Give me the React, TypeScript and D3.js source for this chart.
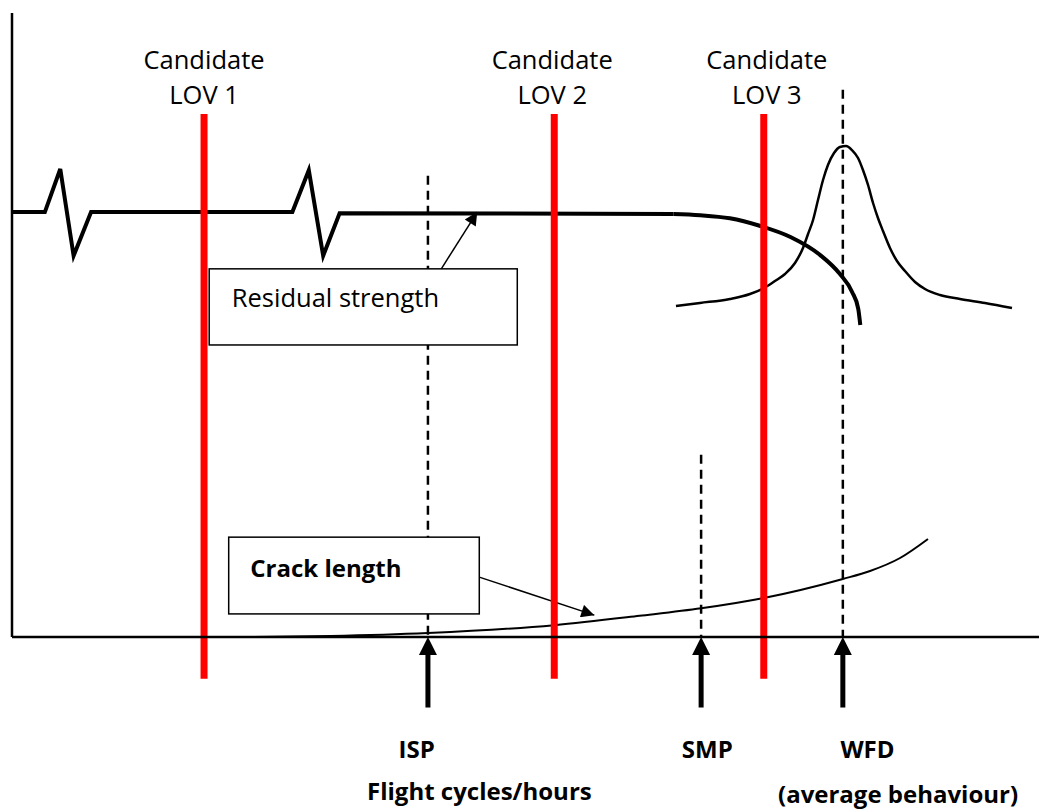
import * as d3 from "d3";
import React from "react";

// chart units: x = life (flight cycles/hours, 0-100), y = arbitrary level (0-100)
const lovNames = ["LOV 1", "LOV 2", "LOV 3"];
const lovX = [18.7, 52.8, 73.2];
const lovLabelX = [18.7, 52.6, 73.5];
const lovTop = 83.8;
const lovBottom = -6.7;

const markerNames = ["ISP", "SMP", "WFD"];
const markerX = [40.5, 67.1, 80.9];
const markerTop = [73.9, 29.2, 87.7];
const markerLabelX = [39.4, 67.7, 83.3];

const strengthBase: [number, number][] = [
  [0, 68.1], [3.2, 68.1], [4.7, 75.0], [6.0, 61.1], [7.7, 68.1],
  [27.3, 68.1], [28.9, 74.8], [30.3, 61.1], [31.9, 67.9], [64.4, 67.8],
];
const strengthDrop: [number, number][] = [
  [64.4, 67.8], [67.0, 67.6], [69.9, 67.1], [72.8, 65.9],
  [75.8, 64.1], [78.7, 61.2], [80.6, 58.2], [81.8, 55.3], [82.4, 52.6], [82.6, 50.0],
];
const crackLength: [number, number][] = [
  [23.4, 0], [31.0, 0.16], [40.5, 0.64], [52.8, 1.9], [61.1, 3.4], [67.1, 4.6],
  [73.2, 6.25], [80.9, 9.3], [83.55, 10.58], [86.47, 12.66], [89.19, 15.71],
];
const wfdSpread: [number, number][] = [
  [64.65, 53.04], [66.99, 53.53], [69.91, 54.17], [71.86, 54.97], [73.22, 55.93],
  [74.29, 57.05], [75.27, 58.17], [76.24, 59.94], [77.02, 62.34], [77.51, 64.58],
  [78.0, 66.83], [78.48, 70.03], [78.97, 73.24], [79.45, 75.64], [80.04, 77.56],
  [80.62, 78.53], [81.21, 78.69], [81.79, 78.04], [82.38, 76.76], [82.86, 74.84],
  [83.35, 72.44], [83.84, 69.55], [84.32, 67.15], [84.81, 65.06], [85.49, 62.34],
  [86.17, 60.26], [86.95, 58.65], [87.93, 56.89], [88.9, 55.77], [90.36, 54.81],
  [92.31, 54.17], [94.74, 53.53], [97.37, 52.72],
];

// callout boxes: [x0, x1, yTop, yBottom], text anchor, arrow from -> to
const calloutText = ["Residual strength", "Crack length"];
const calloutBold = [false, true];
const calloutBox = [[19.2, 49.2, 59.0, 46.8], [21.1, 45.5, 16.0, 3.7]];
const calloutTextPos = [[21.4, 52.9], [23.2, 9.6]];
const calloutArrow = [[41.8, 59.0, 45.3, 68.1], [45.5, 9.6, 56.7, 3.5]];

const arrowBottom = -11.3;

export default function App() {
  const width = 1039;
  const height = 810;
  const x = d3.scaleLinear().domain([0, 100]).range([12, 1039]);
  const y = d3.scaleLinear().domain([0, 100]).range([637, 13]);

  const lineLin = d3.line<[number, number]>().x((d) => x(d[0])).y((d) => y(d[1]));
  const lineSmooth = d3
    .line<[number, number]>()
    .x((d) => x(d[0]))
    .y((d) => y(d[1]))
    .curve(d3.curveMonotoneX);

  const font = "'Open Sans', sans-serif";
  const regular = 25.5;
  const bold = 24;

  return (
    <svg
      width={width}
      height={height}
      style={{ position: "absolute", left: 0, top: 0, background: "#fff" }}
      fontFamily={font}
    >
      <defs>
        <marker
          id="callHead"
          viewBox="0 0 10 10"
          refX="10"
          refY="5"
          markerWidth="16"
          markerHeight="13"
          markerUnits="userSpaceOnUse"
          orient="auto"
        >
          <path d="M0,0 L10,5 L0,10 z" fill="#000" />
        </marker>
      </defs>

      {/* curves */}
      <path d={lineLin(strengthBase) || ""} fill="none" stroke="#000" strokeWidth={4} strokeLinejoin="miter" />
      <path d={lineSmooth(strengthDrop) || ""} fill="none" stroke="#000" strokeWidth={4} />
      <path d={lineSmooth(wfdSpread) || ""} fill="none" stroke="#000" strokeWidth={2.5} />
      <path d={lineSmooth(crackLength) || ""} fill="none" stroke="#000" strokeWidth={2} />

      {/* dashed markers */}
      {markerX.map((mx, i) => (
        <line
          key={"d" + i}
          x1={x(mx)}
          x2={x(mx)}
          y1={y(markerTop[i])}
          y2={y(0)}
          stroke="#000"
          strokeWidth={2.5}
          strokeDasharray="9 6"
        />
      ))}

      {/* callout boxes */}
      {calloutText.map((t, i) => {
        const [bx0, bx1, by0, by1] = calloutBox[i];
        const [ax0, ay0, ax1, ay1] = calloutArrow[i];
        return (
          <g key={"c" + i}>
            <rect
              x={x(bx0)}
              y={y(by0)}
              width={x(bx1) - x(bx0)}
              height={y(by1) - y(by0)}
              fill="#fff"
              stroke="#000"
              strokeWidth={1.5}
            />
            <text
              x={x(calloutTextPos[i][0])}
              y={y(calloutTextPos[i][1])}
              fontSize={calloutBold[i] ? bold : regular}
              fontWeight={calloutBold[i] ? "bold" : "normal"}
              fill="#000"
            >
              {t}
            </text>
            <line
              x1={x(ax0)}
              y1={y(ay0)}
              x2={x(ax1)}
              y2={y(ay1)}
              stroke="#000"
              strokeWidth={1.5}
              markerEnd="url(#callHead)"
            />
          </g>
        );
      })}

      {/* candidate LOV lines */}
      {lovX.map((lx, i) => (
        <g key={"l" + i}>
          <line x1={x(lx)} x2={x(lx)} y1={y(lovTop)} y2={y(lovBottom)} stroke="#ff0000" strokeWidth={7} />
          <text x={x(lovLabelX[i])} y={69} textAnchor="middle" fontSize={regular} fill="#000">
            Candidate
          </text>
          <text x={x(lovLabelX[i])} y={104} textAnchor="middle" fontSize={regular} fill="#000">
            {lovNames[i]}
          </text>
        </g>
      ))}

      {/* axes */}
      <line x1={x(0)} x2={x(0)} y1={y(100)} y2={y(0)} stroke="#000" strokeWidth={2.5} />
      <line x1={x(0)} x2={x(100)} y1={y(0)} y2={y(0)} stroke="#000" strokeWidth={2.5} />

      {/* milestone arrows */}
      {markerX.map((mx, i) => {
        const px = x(mx);
        const tip = y(0);
        return (
          <g key={"a" + i}>
            <line x1={px} x2={px} y1={y(arrowBottom)} y2={tip + 14} stroke="#000" strokeWidth={5} />
            <path d={`M${px},${tip} L${px + 9},${tip + 18} L${px - 9},${tip + 18} Z`} fill="#000" />
            <text x={x(markerLabelX[i])} y={758} textAnchor="middle" fontSize={bold} fontWeight="bold" fill="#000">
              {markerNames[i]}
            </text>
          </g>
        );
      })}

      <text x={367} y={800} fontSize={bold} fontWeight="bold" fill="#000">
        Flight cycles/hours
      </text>
      <text x={778} y={803} fontSize={bold} fontWeight="bold" fill="#000">
        (average behaviour)
      </text>
    </svg>
  );
}
